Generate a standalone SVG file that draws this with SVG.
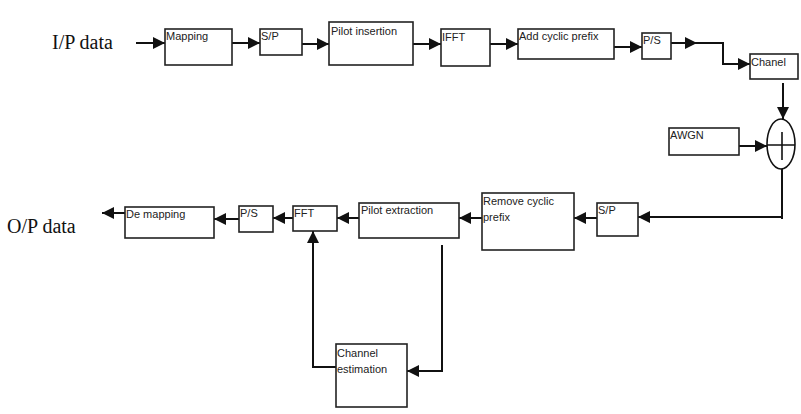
<svg xmlns="http://www.w3.org/2000/svg" width="801" height="414" viewBox="0 0 801 414">
<style>
.box{fill:#fff;stroke:#222;stroke-width:1.6}
.lbl{font-family:"Liberation Sans",Arial,sans-serif;font-size:11px;fill:#222}
.big{font-family:"Liberation Serif","Times New Roman",serif;font-size:20px;fill:#111}
.con{fill:none;stroke:#111;stroke-width:2}
.arr{marker-end:url(#ah)}
</style>
<defs>
<marker id="ah" markerUnits="userSpaceOnUse" markerWidth="12" markerHeight="12" refX="12" refY="6" orient="auto">
<path d="M0,0 L12,6 L0,12 z" fill="#111"/>
</marker>
</defs>
<rect width="801" height="414" fill="#fff"/>
<text class="big" x="52" y="49">I/P data</text>
<text class="big" x="7" y="233">O/P data</text>
<g id="connectors">
<path class="con arr" d="M136,43 H165"/>
<path class="con arr" d="M232,43 H260"/>
<path class="con arr" d="M302,44 H329"/>
<path class="con arr" d="M413,44 H441"/>
<path class="con arr" d="M490,44 H518"/>
<path class="con arr" d="M614,47 H642"/>
<path class="con arr" d="M671,43 H697"/>
<path class="con arr" d="M696,43 H723 V64 H750"/>
<path class="con arr" d="M783,83 V119"/>
<path class="con arr" d="M739,146 H767"/>
<path class="con" d="M782,169 V219"/>
<path class="con arr" d="M781,217 H638"/>
<path class="con arr" d="M597,218 H574"/>
<path class="con arr" d="M482,218 H459"/>
<path class="con arr" d="M359,218 H337"/>
<path class="con arr" d="M293,218 H273"/>
<path class="con arr" d="M239,219 H214"/>
<path class="con arr" d="M125,213 H102"/>
<path class="con arr" d="M442,245 V371 H407"/>
<path class="con arr" d="M336,367 H313 V231"/>
</g>
<g id="mapping"><rect class="box" x="165" y="29" width="67" height="36"/><text class="lbl" x="166" y="40">Mapping</text></g>
<g id="sp1"><rect class="box" x="260" y="29" width="42" height="26"/><text class="lbl" x="261" y="40">S/P</text></g>
<g id="pilot-insertion"><rect class="box" x="329" y="22" width="84" height="43"/><text class="lbl" x="331" y="35">Pilot insertion</text></g>
<g id="ifft"><rect class="box" x="441" y="29" width="49" height="37"/><text class="lbl" x="442" y="41">IFFT</text></g>
<g id="add-cp"><rect class="box" x="518" y="29" width="96" height="30"/><text class="lbl" x="519" y="40">Add cyclic prefix</text></g>
<g id="ps1"><rect class="box" x="642" y="33" width="29" height="26"/><text class="lbl" x="643" y="44">P/S</text></g>
<g id="chanel"><rect class="box" x="750" y="54" width="48" height="25"/><text class="lbl" x="751" y="66">Chanel</text></g>
<g id="awgn"><rect class="box" x="669" y="128" width="70" height="27"/><text class="lbl" x="670" y="139">AWGN</text></g>
<g id="adder"><ellipse cx="781" cy="144" rx="14" ry="25" fill="#fff" stroke="#111" stroke-width="1.6"/><path d="M767,145 H795 M782,132 V160" stroke="#111" stroke-width="1.6"/></g>
<g id="sp2"><rect class="box" x="597" y="203" width="41" height="33"/><text class="lbl" x="598" y="214">S/P</text></g>
<g id="remove-cp"><rect class="box" x="482" y="193" width="92" height="57"/><text class="lbl" x="483" y="205">Remove cyclic</text><text class="lbl" x="483" y="221">prefix</text></g>
<g id="pilot-extraction"><rect class="box" x="359" y="203" width="100" height="35"/><text class="lbl" x="361" y="214">Pilot extraction</text></g>
<g id="fft"><rect class="box" x="293" y="206" width="44" height="25"/><text class="lbl" x="294" y="217">FFT</text></g>
<g id="ps2"><rect class="box" x="239" y="206" width="34" height="26"/><text class="lbl" x="240" y="217">P/S</text></g>
<g id="demapping"><rect class="box" x="125" y="207" width="89" height="31"/><text class="lbl" x="126" y="218">De mapping</text></g>
<g id="channel-estimation"><rect class="box" x="336" y="344" width="71" height="63"/><text class="lbl" x="337" y="357">Channel</text><text class="lbl" x="337" y="373">estimation</text></g>
</svg>
